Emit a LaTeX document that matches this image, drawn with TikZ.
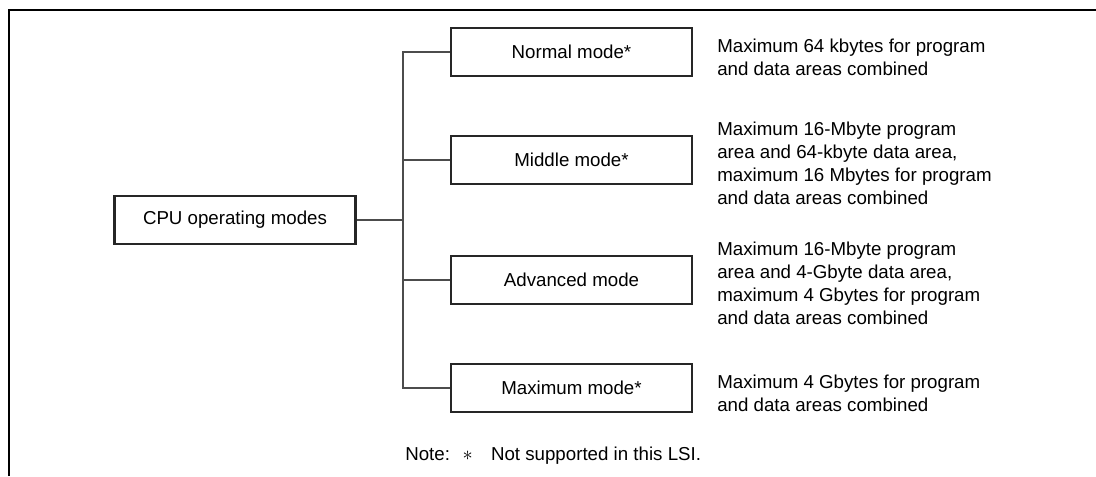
\documentclass[tikz,border=0pt]{standalone}
\usepackage{fontspec}
\setmainfont{Liberation Sans}
\begin{document}
\begin{tikzpicture}[x=0.025cm, y=-0.025cm,
		modebox/.style = {draw = black!85, line width = 1.8pt, minimum width = 6.025cm, minimum height = 1.2cm, inner sep = 0pt, font = \fontsize{13.3}{16.4}\selectfont},
		desc/.style = {anchor = west, align = left, inner sep = 0pt, font = \fontsize{13.3}{16.4}\selectfont},
		link/.style = {draw = black!70, line width = 1pt},
		frame/.style = {draw = black, line width = 2.1pt}]
		\useasboundingbox (0,0) rectangle (1096,476);
		\draw [frame] (9,476) -- (9,10) -- (1096,10);
		
		\node [modebox] (cpu) at (235, 220) {CPU operating modes};
		
		\node [modebox] (normal) at (571.5, 52) {Normal mode*};
		\node [modebox] (middle) at (571.5, 160) {Middle mode*};
		\node [modebox] (advanced) at (571.5, 280) {Advanced mode};
		\node [modebox] (maximum) at (571.5, 388) {Maximum mode*};
		
		\coordinate (bus) at (403, 220);
		\draw [link] (cpu.east) -- (bus);
		\draw [link] (normal.west) -| (bus) |- (maximum.west);
		\draw [link] (middle.west) -- (middle.west -| bus);
		\draw [link] (advanced.west) -- (advanced.west -| bus);
		
		\node [desc] (normaltext) at (717, 57) {Maximum 64 kbytes for program\\and data areas combined};
		\node [desc] (middletext) at (717, 163) {Maximum 16-Mbyte program\\area and 64-kbyte data area,\\maximum 16 Mbytes for program\\and data areas combined};
		\node [desc] (advancedtext) at (717, 283) {Maximum 16-Mbyte program\\area and 4-Gbyte data area,\\maximum 4 Gbytes for program\\and data areas combined};
		\node [desc] (maximumtext) at (717, 393) {Maximum 4 Gbytes for program\\and data areas combined};
		
		\node [desc, anchor = base west] (note) at (405, 460) {Note:\hspace{9pt}$\ast$\hspace{13pt}Not supported in this LSI.};
\end{tikzpicture}
\end{document}
